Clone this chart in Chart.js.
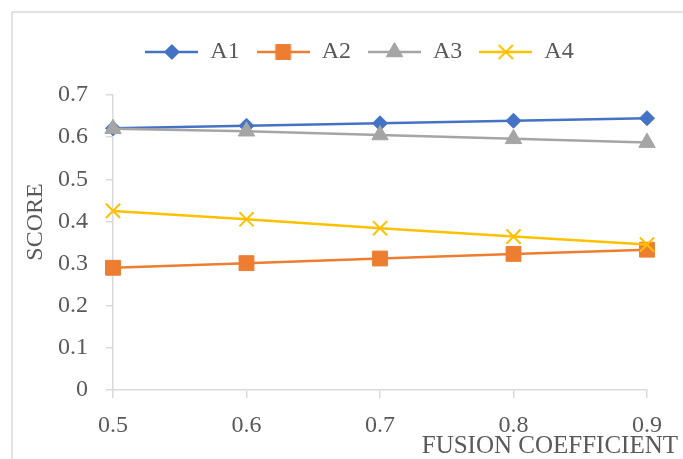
<!DOCTYPE html>
<html>
<head>
<meta charset="utf-8">
<script src="https://cdn.jsdelivr.net/npm/chart.js@4"></script>
<style>
  html, body { margin: 0; padding: 0; background: #fff; overflow: hidden; }
</style>
</head>
<body>
<canvas id="chart" width="683" height="459"></canvas>
<script>
// ================================
// DATA
// ================================
const xLabels = ["0.5", "0.6", "0.7", "0.8", "0.9"];
const a1 = [0.621, 0.627, 0.633, 0.639, 0.645];
const a2 = [0.290, 0.301, 0.312, 0.323, 0.333];
const a3 = [0.620, 0.614, 0.605, 0.596, 0.587];
const a4 = [0.425, 0.405, 0.384, 0.364, 0.345];
const seriesNames = ["A1", "A2", "A3", "A4"];

const yMin = 0;
const yMax = 0.7;
const yStep = 0.1;

const xTitle = "FUSION COEFFICIENT";
const yTitle = "SCORE";

// ================================
// STYLE
// ================================
const textColor = "#595959";
const axisColor = "#d9d9d9";
const fontFamily = "'Liberation Serif', 'Times New Roman', serif";
const colors = ["#4472C4", "#ED7D31", "#A5A5A5", "#FFC000"];
const styles = ["rectRot", "rect", "triangle", "crossRot"];
const radii = [7.5, 10.5, 9.5, 10];

// legend icons: line with marker in middle
function makeIcon(i) {
  const c = document.createElement("canvas");
  c.width = 53;
  c.height = 24;
  const ctx = c.getContext("2d");
  ctx.strokeStyle = colors[i];
  ctx.fillStyle = colors[i];
  ctx.lineWidth = 2.5;
  ctx.beginPath();
  ctx.moveTo(0, 12);
  ctx.lineTo(53, 12);
  ctx.stroke();
  ctx.lineWidth = i === 3 ? 2 : 1;
  Chart.helpers.drawPoint(ctx, { pointStyle: styles[i], radius: radii[i], borderWidth: ctx.lineWidth, rotation: 0 }, 26.5, 12);
  return c;
}
const icons = seriesNames.map((n, i) => makeIcon(i));

// ================================
// PLUGIN: frame, axis titles, legend placement
// ================================
const extras = {
  id: "extras",
  beforeLayout(chart) {
    const lg = chart.legend;
    if (lg && !lg._patched) {
      const fit = lg.fit;
      lg.fit = function () {
        fit.call(this);
        this.height = 95 - 23;
      };
      lg._patched = true;
    }
  },
  afterLayout(chart) {
    chart.legend.left += 36;
    chart.legend.right += 36;
  },
  afterDraw(chart) {
    const ctx = chart.ctx;
    ctx.save();
    // outer frame
    ctx.strokeStyle = axisColor;
    ctx.lineWidth = 1.5;
    ctx.strokeRect(12, 12, 690, 470);
    // axis titles
    ctx.fillStyle = textColor;
    ctx.font = "25px " + fontFamily;
    ctx.textBaseline = "middle";
    ctx.textAlign = "right";
    ctx.fillText(xTitle, 678, 446);
    ctx.font = "24px " + fontFamily;
    ctx.translate(36, 222);
    ctx.rotate(-Math.PI / 2);
    ctx.textAlign = "center";
    ctx.fillText(yTitle, 0, 0);
    ctx.restore();
  }
};

const datasets = [a1, a2, a3, a4].map((values, i) => ({
  label: seriesNames[i],
  data: values,
  borderColor: colors[i],
  backgroundColor: colors[i],
  borderWidth: 2.5,
  pointStyle: styles[i],
  pointRadius: radii[i],
  pointHoverRadius: radii[i],
  pointBackgroundColor: colors[i],
  pointBorderColor: colors[i],
  pointBorderWidth: i === 3 ? 2 : 1,
  tension: 0,
  clip: false,
  order: 4 - i
}));

new Chart(document.getElementById("chart"), {
  type: "line",
  data: {
    labels: xLabels,
    datasets: datasets
  },
  options: {
    responsive: false,
    animation: false,
    layout: {
      padding: { left: 0, right: 683 - 647, top: 23, bottom: 0 }
    },
    plugins: {
      legend: {
        display: true,
        position: "top",
        labels: {
          usePointStyle: true,
          pointStyleWidth: 53,
          padding: 17,
          color: textColor,
          font: { family: fontFamily, size: 24 },
          sort: (a, b) => a.datasetIndex - b.datasetIndex,
          generateLabels(chart) {
            const items = Chart.defaults.plugins.legend.labels.generateLabels(chart);
            items.forEach(it => { it.pointStyle = icons[it.datasetIndex]; });
            return items;
          }
        }
      },
      tooltip: { enabled: false },
      title: { display: false }
    },
    scales: {
      x: {
        type: "category",
        offset: false,
        afterFit(scale) { scale.height = 459 - 390; },
        grid: {
          display: true,
          drawOnChartArea: false,
          drawTicks: true,
          tickLength: 8,
          color: axisColor,
          lineWidth: 1.5
        },
        border: { display: true, color: axisColor, width: 1.5 },
        ticks: {
          color: textColor,
          font: { family: fontFamily, size: 24 },
          padding: 13,
          maxRotation: 0,
          autoSkip: false
        }
      },
      y: {
        min: yMin,
        max: yMax,
        afterFit(scale) { scale.width = 113; },
        grid: {
          display: true,
          drawOnChartArea: false,
          drawTicks: true,
          tickLength: 7,
          color: axisColor,
          lineWidth: 1.5
        },
        border: { display: true, color: axisColor, width: 1.5 },
        ticks: {
          stepSize: yStep,
          color: textColor,
          font: { family: fontFamily, size: 24 },
          padding: 18,
          callback: v => Number(v.toFixed(1)).toString()
        }
      }
    }
  },
  plugins: [extras]
});
</script>
</body>
</html>
